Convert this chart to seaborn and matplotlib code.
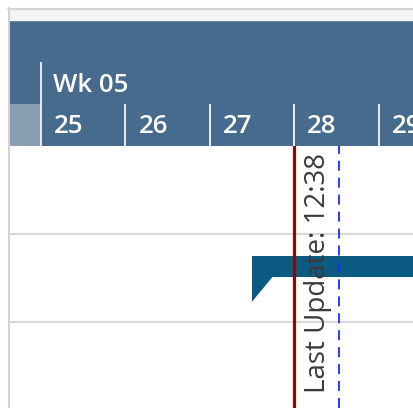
import matplotlib
matplotlib.use("Agg")
import matplotlib.pyplot as plt
from matplotlib.patches import Rectangle, Polygon
import seaborn as sns

# data
week_label = "Wk 05"
days = [25, 26, 27, 28, 29]
task_rows = [1]
task_start = [27.5]
task_end = [31.0]
today = 28.0
last_update = 28 + (12 + 38 / 60) / 24
update_label = "Last Update: 12:38"

sns.set_style("white")
plt.rcParams["font.family"] = ["Open Sans", "DejaVu Sans"]
plt.rcParams["lines.scale_dashes"] = False

W, H = 413, 408
fig = plt.figure(figsize=(W / 100, H / 100), dpi=100)

px_day = 84.4
x_left = days[0] - 31 / px_day
x_right = days[0] + 372 / px_day

def fbox(x0, y0, x1, y1):
    return [x0 / W, 1 - y1 / H, (x1 - x0) / W, (y1 - y0) / H]

# outer frame and top band
fig.patches.append(Rectangle((10 / W, 1 - 20 / H), 1, 10 / H, transform=fig.transFigure,
                             color="#f3f4f6", zorder=0))
fig.add_artist(plt.Line2D([8.5 / W, 8.5 / W], [0, 1 - 8 / H], transform=fig.transFigure,
                          color="#d3d3d3", lw=1.5))
fig.add_artist(plt.Line2D([8 / W, 1], [1 - 8.5 / H, 1 - 8.5 / H], transform=fig.transFigure,
                          color="#d3d3d3", lw=1.5))

# header
hax = fig.add_axes(fbox(10, 20, 413, 146))
hax.set_facecolor("#466b8c")
hax.set_xlim(x_left, x_right)
hax.set_ylim(126, 0)
hax.add_patch(Rectangle((x_left, 84), days[0] - x_left, 42, color="#8a9fb3", lw=0))
hax.vlines(days[0], 42, 126, color="#e8edf2", lw=1.4)
hax.vlines(days[1:], 84, 126, color="#e8edf2", lw=1.4)
hax.text(days[0] + 12 / px_day, 72, week_label, color="white", fontsize=18.5,
         fontweight="semibold", ha="left", va="baseline")
for d in days:
    hax.text(d + 13 / px_day, 113, str(d), color="white", fontsize=18.5,
             fontweight="semibold", ha="left", va="baseline")
hax.set_xticks([])
hax.set_yticks([])
for s in hax.spines.values():
    s.set_visible(False)

# body
ax = fig.add_axes(fbox(10, 146, 413, 408))
ax.set_xlim(x_left, x_right)
ax.set_ylim(262 / 88, 0)
for r in [1, 2]:
    ax.axhline(r, color="#d9d9d9", lw=1.5)

for row, s, e in zip(task_rows, task_start, task_end):
    ax.barh(row + 0.37, e - s, left=s, height=0.24, color="#0b5a81", lw=0)
    ax.add_patch(Polygon([(s, row + 0.48), (s + 0.25, row + 0.48), (s, row + 0.77)],
                         closed=True, color="#0b5a81", lw=0))

ax.axvline(today, color="#860b0b", lw=2.3, zorder=5)
ax.axvline(last_update, color="#1a2bff", lw=1.3, linestyle=(0, (7.2, 5)), zorder=5)
ax.text(last_update - 0.24, 2.81, update_label, rotation=90, ha="center", va="bottom",
        fontsize=20, color="#3a3a3a", zorder=6)
ax.set_xticks([])
ax.set_yticks([])
for s in ax.spines.values():
    s.set_visible(False)

fig.savefig("out.png", dpi=100, facecolor="white")
